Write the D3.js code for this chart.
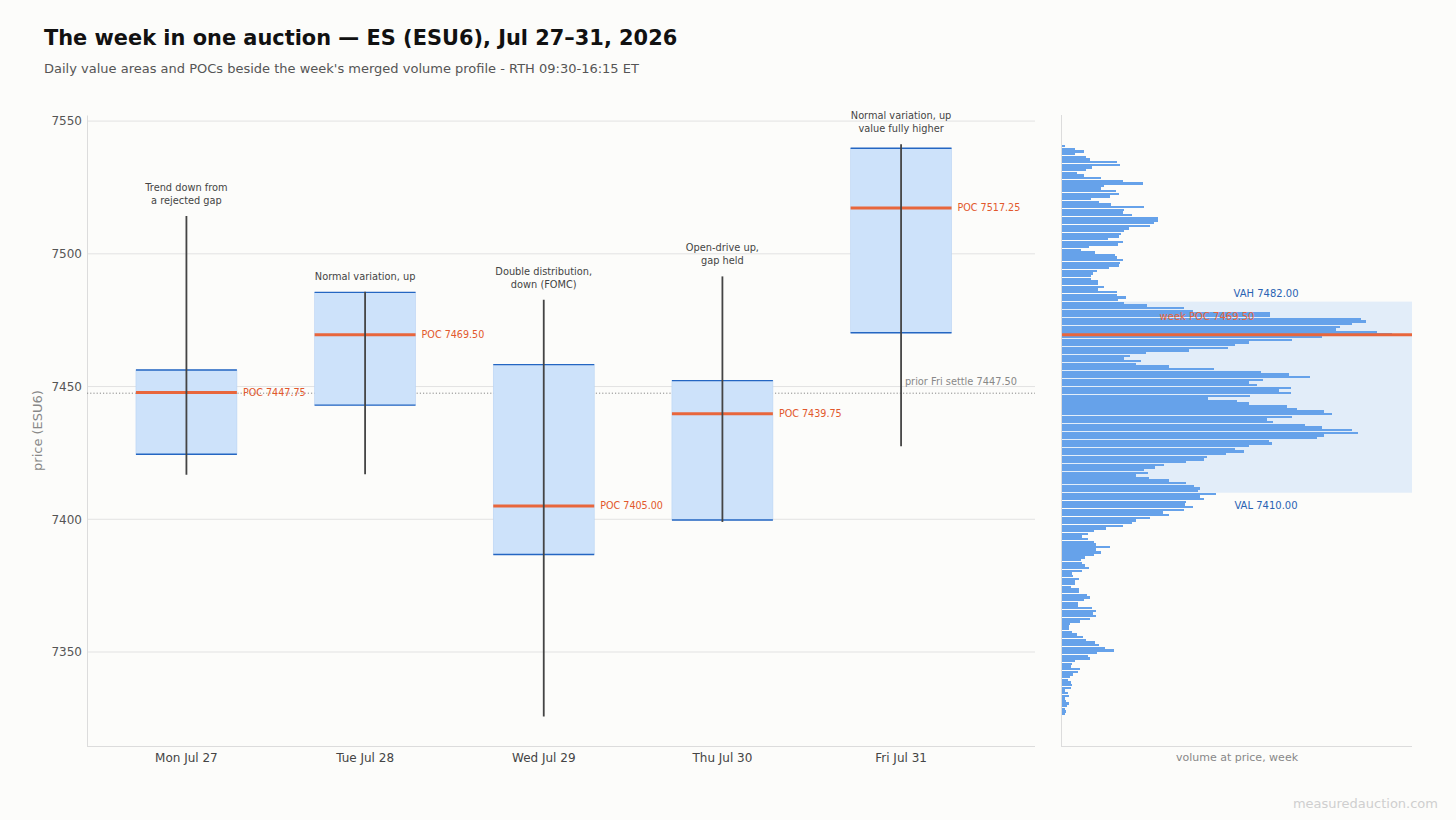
<!DOCTYPE html>
<html>
<head>
<meta charset="utf-8">
<script src="https://cdn.jsdelivr.net/npm/d3@7/dist/d3.min.js"></script>
<style>
  html, body { margin: 0; padding: 0; background: #fcfcfa; }
  svg { display: block; font-family: "DejaVu Sans", sans-serif; }
</style>
</head>
<body>
<div id="chart"></div>
<script>
// Daily auction stats (RTH)
const days     = ["Mon Jul 27", "Tue Jul 28", "Wed Jul 29", "Thu Jul 30", "Fri Jul 31"];
const dayHigh  = [7514.25, 7485.75, 7482.75, 7491.50, 7541.25];
const dayLow   = [7416.75, 7417.00, 7325.75, 7399.00, 7427.50];
const dayVAH   = [7456.25, 7485.50, 7458.25, 7452.25, 7539.75];
const dayVAL   = [7424.50, 7443.00, 7386.75, 7399.75, 7470.25];
const dayPOC   = [7447.75, 7469.50, 7405.00, 7439.75, 7517.25];
const dayNotes = [
  ["Trend down from", "a rejected gap"],
  ["Normal variation, up"],
  ["Double distribution,", "down (FOMC)"],
  ["Open-drive up,", "gap held"],
  ["Normal variation, up", "value fully higher"]
];

const priorSettle = 7447.50;
const weekVAH = 7482.00;
const weekVAL = 7410.00;
const weekPOC = 7469.50;

const yTicks = [7350, 7400, 7450, 7500, 7550];

// merged week profile: contracts per 1-pt bin, from 7540 down to 7326
const profileTop = 7540;
const profileVolume = [
  270, 1270, 2170, 1270, 2370, 2770, 5470, 5770, 2970, 2370,
  1470, 2170, 3870, 6070, 8070, 4170, 3870, 5370, 5670, 4770,
  2870, 3670, 4870, 8170, 6170, 6070, 6970, 9570, 9570, 9170,
  8770, 6670, 6170, 5870, 5670, 4570, 6070, 5570, 2670, 1870,
  3270, 5270, 5470, 6070, 5830, 5670, 4670, 3470, 3070, 2900,
  2900, 3570, 3570, 4170, 3570, 5470, 5470, 6370, 5570, 6170,
  8470, 12170, 13170, 20870, 20870, 29970, 30470, 29070, 27870, 27470,
  31570, 33070, 26070, 23070, 18770, 17370, 16670, 12670, 8370, 6770,
  6170, 7870, 7370, 10670, 15270, 19970, 22770, 24870, 20170, 18770,
  19570, 22970, 21770, 22970, 18870, 14670, 17570, 18770, 22570, 23570,
  26270, 27070, 23070, 20570, 21170, 24370, 26070, 29070, 29670, 26270,
  25570, 20770, 21070, 18770, 17370, 18270, 16470, 14570, 14270, 12370,
  10170, 9270, 8170, 8570, 7370, 8670, 10670, 12370, 13270, 13870,
  13670, 15470, 13870, 14270, 12370, 12270, 13170, 12170, 10070, 10670,
  8770, 7370, 6970, 6070, 4370, 3170, 2570, 1970, 2570, 3170,
  3370, 4770, 3370, 3870, 3170, 2270, 1870, 1970, 2270, 2670,
  1970, 970, 1070, 1670, 1270, 1270, 870, 1670, 1670, 2470,
  2770, 2170, 1570, 1570, 2970, 3370, 3070, 3370, 2770, 1770,
  770, 670, 670, 970, 1470, 2070, 2370, 3270, 3670, 4270,
  5170, 3470, 2570, 2770, 1270, 970, 870, 1770, 1570, 1070,
  770, 570, 870, 970, 870, 270, 570, 670, 270, 370,
  670, 470, 270, 370, 270
];

const width = 1456, height = 820;
const plot = {left: 87, right: 1035, top: 115, bottom: 746};
const prof = {left: 1062, right: 1412};

const svg = d3.select("#chart").append("svg")
  .attr("width", width)
  .attr("height", height);

svg.append("rect").attr("width", width).attr("height", height).attr("fill", "#fcfcfa");

// title + subtitle
svg.append("text")
  .attr("x", 44).attr("y", 45)
  .attr("font-size", 20.9).attr("font-weight", "bold").attr("fill", "#111")
  .text("The week in one auction \u2014 ES (ESU6), Jul 27\u201331, 2026");
svg.append("text")
  .attr("x", 44).attr("y", 73)
  .attr("font-size", 13).attr("fill", "#555")
  .text("Daily value areas and POCs beside the week's merged volume profile - RTH 09:30-16:15 ET");

// scales
const y = d3.scaleLinear()
  .domain([7314.6, 7552.3])
  .range([plot.bottom, plot.top]);

const x = d3.scaleBand()
  .domain(days)
  .range([plot.left, 1000.5])
  .paddingInner(0.435)
  .paddingOuter(0.274);

// grid
svg.append("g").selectAll("line")
  .data(yTicks)
  .join("line")
  .attr("x1", plot.left).attr("x2", plot.right)
  .attr("y1", d => y(d)).attr("y2", d => y(d))
  .attr("stroke", "#e2e2e2").attr("stroke-width", 1);

// y axis
const yAxis = svg.append("g")
  .attr("transform", `translate(${plot.left},0)`)
  .call(d3.axisLeft(y).tickValues(yTicks).tickSize(0).tickPadding(5).tickFormat(d3.format("d")));
yAxis.select(".domain").attr("stroke", "#dcdcdc");
yAxis.selectAll("text").attr("font-size", 12).attr("fill", "#555").attr("font-family", "DejaVu Sans");

// x axis
const xAxis = svg.append("g")
  .attr("transform", `translate(0,${plot.bottom})`)
  .call(d3.axisBottom(x).tickSize(0).tickPadding(7));
xAxis.select(".domain").attr("d", `M${plot.left},0.5H${plot.right}`).attr("stroke", "#dcdcdc");
xAxis.selectAll("text").attr("font-size", 12).attr("fill", "#444").attr("font-family", "DejaVu Sans");

svg.append("text")
  .attr("transform", `translate(42,${(plot.top + plot.bottom) / 2}) rotate(-90)`)
  .attr("text-anchor", "middle")
  .attr("font-size", 13).attr("fill", "#888")
  .text("price (ESU6)");

// prior Friday settle
svg.append("line")
  .attr("x1", plot.left).attr("x2", plot.right)
  .attr("y1", y(priorSettle)).attr("y2", y(priorSettle))
  .attr("stroke", "#888").attr("stroke-width", 1).attr("stroke-dasharray", "1.2,2");
svg.append("text")
  .attr("x", 1017).attr("y", y(priorSettle) - 8)
  .attr("text-anchor", "end")
  .attr("font-size", 9.8).attr("fill", "#888")
  .text("prior Fri settle " + priorSettle.toFixed(2));

// daily value areas
const dayData = days.map((d, i) => ({
  day: d, high: dayHigh[i], low: dayLow[i], vah: dayVAH[i], val: dayVAL[i], poc: dayPOC[i], note: dayNotes[i]
}));

const g = svg.append("g").selectAll("g")
  .data(dayData)
  .join("g");

g.append("rect")
  .attr("x", d => x(d.day))
  .attr("width", x.bandwidth())
  .attr("y", d => y(d.vah))
  .attr("height", d => y(d.val) - y(d.vah))
  .attr("fill", "#cde2fa")
  .attr("stroke", "#b9d3f3").attr("stroke-width", 0.6);

["vah", "val"].forEach(k => {
  g.append("line")
    .attr("x1", d => x(d.day)).attr("x2", d => x(d.day) + x.bandwidth())
    .attr("y1", d => y(d[k])).attr("y2", d => y(d[k]))
    .attr("stroke", "#2466c2").attr("stroke-width", 1.4);
});

g.append("line")
  .attr("x1", d => x(d.day)).attr("x2", d => x(d.day) + x.bandwidth())
  .attr("y1", d => y(d.poc)).attr("y2", d => y(d.poc))
  .attr("stroke", "#e8663c").attr("stroke-width", 3);

g.append("line")
  .attr("x1", d => x(d.day) + x.bandwidth() / 2).attr("x2", d => x(d.day) + x.bandwidth() / 2)
  .attr("y1", d => y(d.high)).attr("y2", d => y(d.low))
  .attr("stroke", "#444").attr("stroke-width", 1.8);

g.append("text")
  .attr("x", d => x(d.day) + x.bandwidth() + 6)
  .attr("y", d => y(d.poc))
  .attr("dy", "0.35em")
  .attr("font-size", 9.6).attr("fill", "#e2582c")
  .text(d => "POC " + d.poc.toFixed(2));

g.each(function(d) {
  const n = d.note.length;
  d3.select(this).append("g").selectAll("text")
    .data(d.note)
    .join("text")
    .attr("x", x(d.day) + x.bandwidth() / 2)
    .attr("y", (t, j) => y(d.high) - 12 - (n - 1 - j) * 13)
    .attr("text-anchor", "middle")
    .attr("font-size", 9.8).attr("fill", "#444")
    .text(t => t);
});

// week profile panel
const xv = d3.scaleLinear()
  .domain([0, d3.max(profileVolume) * 1.06])
  .range([prof.left, prof.right]);

svg.append("rect")
  .attr("x", prof.left).attr("width", prof.right - prof.left)
  .attr("y", y(weekVAH)).attr("height", y(weekVAL) - y(weekVAH))
  .attr("fill", "#e2edf9");

const bins = profileVolume.map((v, i) => ({price: profileTop - i, vol: v}));

svg.append("g")
  .attr("shape-rendering", "crispEdges")
  .selectAll("rect")
  .data(bins)
  .join("rect")
  .attr("x", prof.left)
  .attr("y", d => y(d.price + 1))
  .attr("width", d => xv(d.vol) - prof.left)
  .attr("height", d => y(d.price) - y(d.price + 1) - 0.3)
  .attr("fill", "#66a2ea");

svg.append("line")
  .attr("x1", prof.left).attr("x2", prof.right)
  .attr("y1", y(weekPOC)).attr("y2", y(weekPOC))
  .attr("stroke", "#e8663c").attr("stroke-width", 3);

svg.append("line")
  .attr("x1", prof.left - 0.5).attr("x2", prof.left - 0.5)
  .attr("y1", plot.top).attr("y2", plot.bottom)
  .attr("stroke", "#dcdcdc");
svg.append("line")
  .attr("x1", prof.left - 1).attr("x2", prof.right)
  .attr("y1", plot.bottom + 0.5).attr("y2", plot.bottom + 0.5)
  .attr("stroke", "#dcdcdc");

svg.append("text")
  .attr("x", 1266).attr("y", y(weekVAH) - 5)
  .attr("text-anchor", "middle")
  .attr("font-size", 10).attr("fill", "#2a63b3")
  .text("VAH " + weekVAH.toFixed(2));
svg.append("text")
  .attr("x", 1266).attr("y", y(weekVAL) + 16)
  .attr("text-anchor", "middle")
  .attr("font-size", 10).attr("fill", "#2a63b3")
  .text("VAL " + weekVAL.toFixed(2));
svg.append("text")
  .attr("x", 1207).attr("y", y(weekPOC) - 15)
  .attr("text-anchor", "middle")
  .attr("font-size", 10).attr("fill", "#e8663c")
  .text("week POC " + weekPOC.toFixed(2));

svg.append("text")
  .attr("x", (prof.left + prof.right) / 2).attr("y", plot.bottom + 15)
  .attr("text-anchor", "middle")
  .attr("font-size", 11).attr("fill", "#888")
  .text("volume at price, week");

svg.append("text")
  .attr("x", 1438).attr("y", 808)
  .attr("text-anchor", "end")
  .attr("font-size", 13).attr("fill", "#cfcfcf")
  .text("measuredauction.com");
</script>
</body>
</html>
